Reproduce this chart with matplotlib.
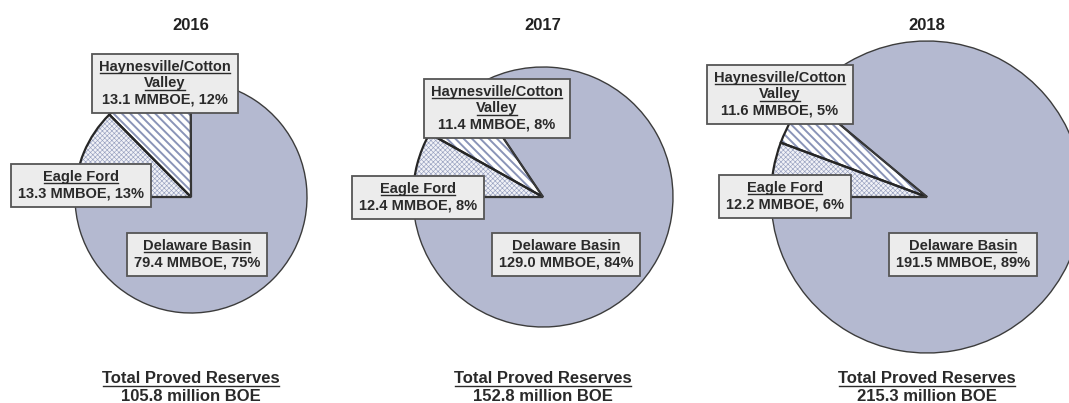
import matplotlib
matplotlib.use("Agg")
import matplotlib.pyplot as plt
from matplotlib.patches import Rectangle

plt.rcParams['font.family'] = ['Liberation Sans', 'DejaVu Sans']

# data
years = ['2016', '2017', '2018']
eagle_ford = [13.3, 12.4, 12.2]
haynesville = [13.1, 11.4, 11.6]
delaware = [79.4, 129.0, 191.5]
pct_ef = [13, 8, 6]
pct_hv = [12, 8, 5]
pct_db = [75, 84, 89]
totals = [105.8, 152.8, 215.3]

# layout (pixel units, y up)
centers = [(191, 206), (543, 206), (927, 206)]
radii = [116, 130, 156]
box_hv = [(165, 321), (497, 296), (780, 310)]
box_ef = [(81, 219), (418, 207), (785, 208)]
box_db = [(197, 150), (566, 150), (963, 150)]

c_db = '#b4b9d0'
c_edge = '#262626'
c_text = '#2a2a2a'

fig = plt.figure(figsize=(10.69, 4.03), dpi=100)
ax = fig.add_axes([0, 0, 1, 1])

groups = []


def stacked(x, y, lines, n_under, size=10.5, step=16.7, boxed=True):
    n = len(lines)
    cap = 0.72 * size * 100 / 72
    texts = []
    for k, s in enumerate(lines):
        yb = y + ((n - 1) / 2 - k) * step - cap / 2
        texts.append(ax.text(x, yb, s, ha='center', va='baseline',
                             fontsize=size, fontweight='bold',
                             color=c_text, zorder=6))
    groups.append((texts, n_under, boxed))


for i, yr in enumerate(years):
    vals = [eagle_ford[i], haynesville[i], delaware[i]]
    wedges, _ = ax.pie(vals, center=centers[i], radius=radii[i],
                       startangle=180, counterclock=False,
                       colors=['#f1f2f7', 'white', c_db],
                       wedgeprops=dict(linewidth=0))
    wedges[0].set_edgecolor('#98a1c0')
    wedges[0].set_hatch('xxxxxxx')
    wedges[1].set_edgecolor('#8a94b8')
    wedges[1].set_hatch('\\\\\\\\')
    wedges[2].set_edgecolor(c_db)
    if hasattr(wedges[0], 'set_hatch_linewidth'):
        wedges[0].set_hatch_linewidth(0.45)
        wedges[1].set_hatch_linewidth(1.4)
    # outlines
    lines, _ = ax.pie(vals, center=centers[i], radius=radii[i],
                      startangle=180, counterclock=False,
                      wedgeprops=dict(fill=False, edgecolor=c_edge, linewidth=1.6))
    lines[2].set_linewidth(1.0)
    lines[2].set_edgecolor('#3c3c3c')

    cx = centers[i][0]
    ax.text(cx, 377, yr, ha='center', va='center', fontsize=12,
            fontweight='bold', color='#222222')

    stacked(*box_hv[i], ['Haynesville/Cotton', 'Valley',
                         '%.1f MMBOE, %d%%' % (haynesville[i], pct_hv[i])], 2)
    stacked(*box_ef[i], ['Eagle Ford',
                         '%.1f MMBOE, %d%%' % (eagle_ford[i], pct_ef[i])], 1)
    stacked(*box_db[i], ['Delaware Basin',
                         '%.1f MMBOE, %d%%' % (delaware[i], pct_db[i])], 1)
    stacked(cx, 17, ['Total Proved Reserves', '%.1f million BOE' % totals[i]], 1,
            size=12, step=18, boxed=False)

ax.set_xlim(0, 1069)
ax.set_ylim(0, 403)
ax.axis('off')

# boxes and underlines need the rendered text sizes
fig.canvas.draw()
r = fig.canvas.get_renderer()
for texts, n_under, boxed in groups:
    ext = [t.get_window_extent(r) for t in texts]
    for t, e in zip(texts[:n_under], ext[:n_under]):
        yb = t.get_position()[1] - 2.5
        ax.plot([e.x0 + 1, e.x1 - 1], [yb, yb], color=c_text, lw=1.0, zorder=6)
    if boxed:
        x0 = min(e.x0 for e in ext) - 7
        x1 = max(e.x1 for e in ext) + 7
        y0 = min(e.y0 for e in ext) - 6
        y1 = max(e.y1 for e in ext) + 6
        ax.add_patch(Rectangle((x0, y0), x1 - x0, y1 - y0, fc='#ececec',
                               ec='#555555', lw=1.3, zorder=5))

plt.savefig('out.png', dpi=100)
